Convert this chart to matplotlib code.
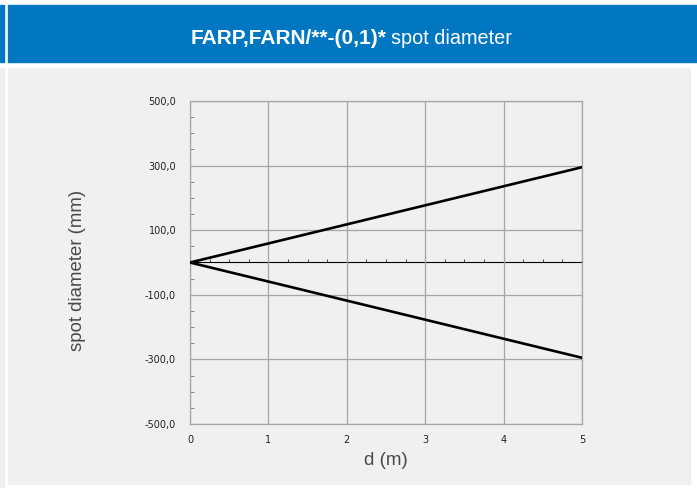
import matplotlib.pyplot as plt
from matplotlib.patches import Rectangle
from matplotlib.ticker import MultipleLocator, FuncFormatter

# data
d = [0, 1, 2, 3, 4, 5]
upper = [0, 59, 118, 177, 236, 295]
lower = [0, -59, -118, -177, -236, -295]
y_ticks = [-500, -300, -100, 100, 300, 500]

W, H = 697, 488
fig = plt.figure(figsize=(W / 100, H / 100), dpi=100)
fig.patch.set_facecolor('white')

blue = '#0077c0'
panel = '#eff0f2'
# header bar and side strips
boxes = [
    ((0, 1 - 62 / H), 4 / W, 57 / H, blue),
    ((8 / W, 1 - 62 / H), 1, 57 / H, blue),
    ((0, 0), 4 / W, 1 - 68 / H, panel),
    ((8 / W, 4 / H), 682 / W, 1 - 72 / H, panel),
]
for xy, w, h, c in boxes:
    fig.patches.append(Rectangle(xy, w, h, transform=fig.transFigure, color=c, zorder=-5))

fig.text(387 / W, 1 - 39 / H, 'FARP,FARN/**-(0,1)*', color='white', fontsize=15,
         family='Liberation Sans', weight='bold', ha='right', va='center')
fig.text(391 / W, 1 - 39 / H, 'spot diameter', color='white', fontsize=14.3,
         family='Liberation Sans', ha='left', va='center')

ax = fig.add_axes([190 / W, 64 / H, 392 / W, 323 / H], zorder=2)
ax.set_facecolor('none')
ax.plot(d, upper, color='black', lw=1.9, zorder=3)
ax.plot(d, lower, color='black', lw=1.9, zorder=3)

ax.set_xlim(0, 5)
ax.set_ylim(-500, 500)
ax.set_yticks(y_ticks)
ax.yaxis.set_minor_locator(MultipleLocator(50))
ax.yaxis.set_major_formatter(FuncFormatter(lambda v, p: f'{v:.1f}'.replace('.', ',')))
ax.set_xticks(d)
ax.grid(True, which='major', color='#a5a5a5', lw=0.9)
for s in ax.spines.values():
    s.set_color('#a5a5a5')
    s.set_linewidth(0.9)
ax.tick_params(axis='y', which='major', length=0, pad=10, labelsize=7, colors='#222222')
ax.tick_params(axis='y', which='minor', direction='in', length=3, width=0.7, color='#888888')
ax.tick_params(axis='x', which='major', length=0, pad=8, labelsize=7, colors='#222222')
for lab in ax.get_xticklabels() + ax.get_yticklabels():
    lab.set_family('DejaVu Sans')

# zero line with small ticks
sec = ax.secondary_xaxis(0.5)
sec.spines['bottom'].set_color('#444444')
sec.spines['bottom'].set_linewidth(1.3)
sec.set_xticks(d)
sec.set_xticklabels([])
sec.xaxis.set_minor_locator(MultipleLocator(0.25))
sec.tick_params(which='both', direction='out', length=2, width=0.7, color='#444444',
                labelbottom=False, labeltop=False)

ax.set_xlabel('d (m)', fontsize=13.5, family='Liberation Sans', color='#4a4a4a', labelpad=5)
ax.set_ylabel('spot diameter (mm)', fontsize=13.4, family='Liberation Sans', color='#4a4a4a')
ax.yaxis.set_label_coords(-0.265, 0.474)

fig.savefig('out.png', dpi=100, facecolor='white')
